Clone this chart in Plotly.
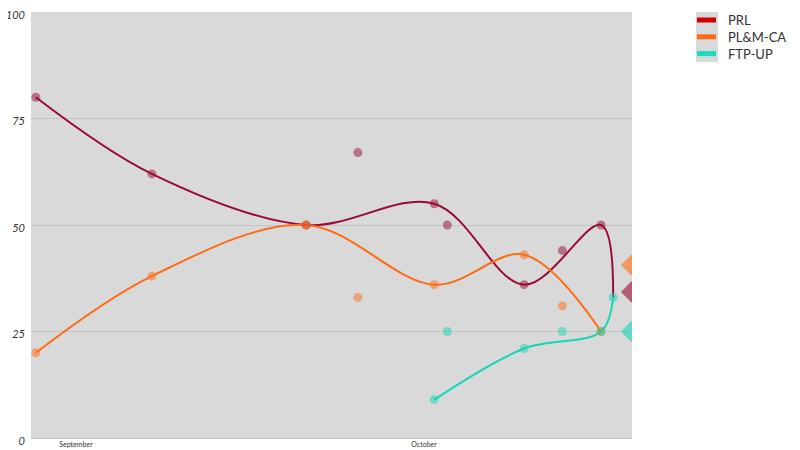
import plotly.graph_objects as go

# trend lines (one pollster series per party)
prl_line_dates = ["2023-08-28 13:00", "2023-09-07 13:00", "2023-09-20 20:00",
                  "2023-10-01 21:00", "2023-10-09 15:00", "2023-10-16 06:00",
                  "2023-10-17 07:00"]
prl_line_values = [80, 62, 50, 55, 36, 50, 33]
plm_line_dates = ["2023-08-28 13:00", "2023-09-07 13:00", "2023-09-20 20:00",
                  "2023-10-01 21:00", "2023-10-09 15:00", "2023-10-16 06:00"]
plm_line_values = [20, 38, 50, 36, 43, 25]
ftp_line_dates = ["2023-10-01 21:00", "2023-10-09 15:00", "2023-10-16 06:00",
                  "2023-10-17 07:00"]
ftp_line_values = [9, 21, 25, 33]

# other polls
prl_poll_dates = ["2023-09-25 07:00", "2023-10-03 00:00", "2023-10-12 22:00"]
prl_poll_values = [67, 50, 44]
plm_poll_dates = ["2023-09-25 07:00", "2023-10-12 22:00"]
plm_poll_values = [33, 31]
ftp_poll_dates = ["2023-10-03 00:00", "2023-10-12 22:00"]
ftp_poll_values = [25, 25]

# current average
avg_date = "2023-10-18 22:00"
avg_values = {"PRL": 34.3, "PL&M-CA": 40.6, "FTP-UP": 25}

parties = ["PRL", "PL&M-CA", "FTP-UP"]
line_colors = {"PRL": "#990a33", "PL&M-CA": "#ff6a14", "FTP-UP": "#14d6b8"}
legend_colors = {"PRL": "#d00000", "PL&M-CA": "#ff6a1a", "FTP-UP": "#17dcc0"}

lines = {
    "PRL": (prl_line_dates, prl_line_values),
    "PL&M-CA": (plm_line_dates, plm_line_values),
    "FTP-UP": (ftp_line_dates, ftp_line_values),
}
polls = {
    "PRL": (prl_poll_dates, prl_poll_values),
    "PL&M-CA": (plm_poll_dates, plm_poll_values),
    "FTP-UP": (ftp_poll_dates, ftp_poll_values),
}

fig = go.Figure()

for p in parties:
    d, v = lines[p]
    fig.add_trace(go.Scatter(
        x=d, y=v, mode="lines", name=p, showlegend=False,
        line=dict(color=line_colors[p], width=2, shape="spline"),
    ))

for p in parties:
    d, v = lines[p]
    if p == "PRL":
        # last PRL point sits under the FTP-UP one
        d, v = d[:-1], v[:-1]
    fig.add_trace(go.Scatter(
        x=d + polls[p][0], y=v + polls[p][1], mode="markers", showlegend=False,
        marker=dict(color=line_colors[p], size=9, opacity=0.5),
    ))

for p in parties:
    fig.add_trace(go.Scatter(
        x=[avg_date], y=[avg_values[p]], mode="markers", showlegend=False,
        marker=dict(color=line_colors[p], size=17, symbol="diamond", opacity=0.6),
    ))

# page has an 8px body margin, so the figure is a bit smaller than the window
W, H, OFF = 792, 442, 8
L, R, T, B = 31, 632, 12, 438  # plot area in page pixels


def px(x):
    return (x - L) / (R - L)


def py(y):
    return (B - y) / (B - T)


# hand-made legend (narrow swatches on a grey strip)
shapes = [dict(type="rect", xref="paper", yref="paper", x0=px(696), x1=px(718),
               y0=py(62), y1=py(12), fillcolor="#d9d9d9", line_width=0, layer="below")]
annotations = []
for i, p in enumerate(parties):
    yc = 20 + i * 16.8
    shapes.append(dict(type="rect", xref="paper", yref="paper", x0=px(697), x1=px(716),
                       y0=py(yc + 2.5), y1=py(yc - 2.5), fillcolor=legend_colors[p],
                       line_width=0))
    annotations.append(dict(x=px(726), y=py(yc), xref="paper", yref="paper",
                            text=p, showarrow=False, xanchor="left", yanchor="middle",
                            font=dict(size=13, color="#333333", family="Lato")))

fig.update_layout(
    width=W, height=H,
    margin=dict(l=L - OFF, r=W - (R - OFF), t=T - OFF, b=H - (B - OFF), autoexpand=False),
    paper_bgcolor="white",
    plot_bgcolor="#d9d9d9",
    showlegend=False,
    shapes=shapes,
    annotations=annotations,
    font=dict(family="Lato", color="#333333"),
    xaxis=dict(
        type="date", automargin=False,
        range=["2023-08-28 03:00", avg_date],
        dtick="M1", tick0="2023-09-01", tickformat="%B",
        showgrid=False, zeroline=False,
        showline=True, linecolor="#c4c4c4", linewidth=1,
        tickfont=dict(size=7, color="#333333"),
        ticks="", ticklen=0,
    ),
    yaxis=dict(
        automargin=False, ticklabeloverflow="allow",
        ticklabelstandoff=5, ticklabelshift=3,
        range=[0, 100], tickvals=[0, 25, 50, 75, 100],
        showgrid=True, gridcolor="#c4c4c4", gridwidth=1,
        zeroline=False, showline=False,
        tickfont=dict(size=11, color="#333333", style="italic"),
        ticks="",
    ),
)

fig.write_html("out.html")
